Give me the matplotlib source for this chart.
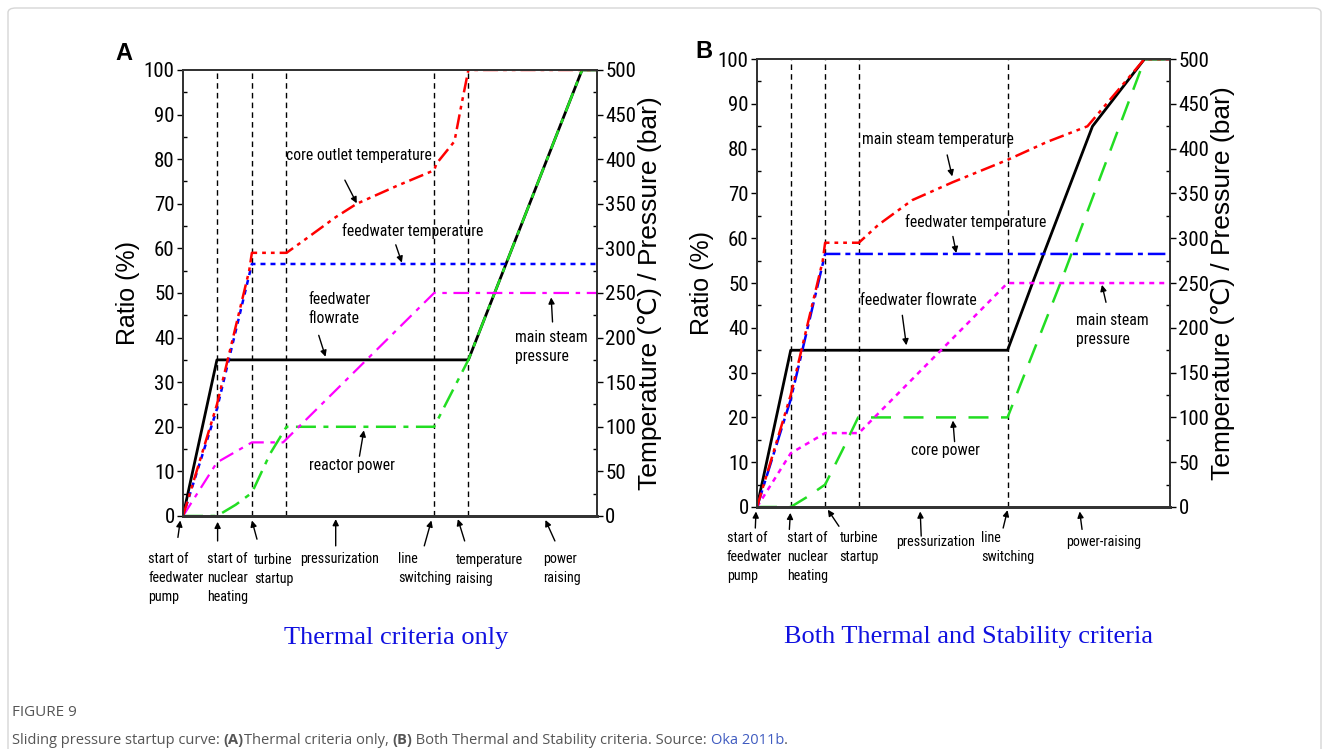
import matplotlib
matplotlib.use("Agg")
import matplotlib.pyplot as plt
import matplotlib.font_manager as fm
from matplotlib.patches import FancyBboxPatch
from matplotlib.ticker import MultipleLocator

# ---- data (x = startup time axis, arbitrary units; y = ratio %) ----
phase_a = [1.0, 2.03, 3.05, 7.4, 8.41]
phase_b = [1.0, 2.02, 3.02, 7.43]

# panel A: thermal criteria only
a_flow_x = [0, 1.0, 8.41, 11.76, 12.2]
a_flow_y = [0, 35, 35, 100, 100]
a_power_x = [0, 1.0, 1.55, 2.03, 2.57, 3.05, 7.4, 8.41, 11.76, 12.2]
a_power_y = [0, 0, 2.5, 5.2, 14, 20, 20, 35, 100, 100]
a_ctemp_x = [0, 1.0, 1.95, 2.03, 3.05, 3.6, 4.5, 5.12, 6.3, 7.4, 7.47, 8.0, 8.2, 8.41, 12.2]
a_ctemp_y = [0, 25, 55, 59, 59, 62, 67, 70, 74, 77.5, 79, 84, 92, 100, 100]
a_ftemp_x = [0, 1.0, 2.03, 12.2]
a_ftemp_y = [0, 24, 56.5, 56.5]
a_press_x = [0, 1.0, 2.03, 2.95, 7.4, 12.2]
a_press_y = [0, 12, 16.5, 16.5, 50, 50]

# panel B: thermal and stability criteria
b_flow_x = [0, 1.0, 7.43, 8.17, 9.95, 11.49, 12.25]
b_flow_y = [0, 35, 35, 50, 85, 100, 100]
b_power_x = [0, 1.0, 1.5, 2.02, 2.54, 3.0, 7.43, 9.0, 11.5, 12.25]
b_power_y = [0, 0, 2.3, 5, 12.8, 20, 20, 50, 100, 100]
b_mtemp_x = [0, 1.0, 1.95, 2.02, 3.02, 3.6, 4.6, 5.8, 7.43, 8.6, 9.8, 11.49, 12.25]
b_mtemp_y = [0, 25, 55, 59, 59, 63, 68.5, 72.5, 77.5, 81.5, 85, 100, 100]
b_ftemp_x = [0, 1.0, 2.02, 12.25]
b_ftemp_y = [0, 24, 56.5, 56.5]
b_press_x = [0, 1.0, 2.02, 3.02, 7.43, 12.25]
b_press_y = [0, 12, 16.5, 16.5, 50, 50]

SANS = ["Liberation Sans", "DejaVu Sans"]

# look for a condensed face for the cramped labels of the original
narrow_file = None
for f in fm.fontManager.ttflist:
    fn = f.fname
    if ("Narrow" in fn or "Condensed" in fn) and not any(
            k in fn for k in ("Bold", "Italic", "Oblique", "Light", "Thin", "Black", "Medium", "Semi")):
        narrow_file = fn
        if "LiberationSansNarrow" in fn:
            break


def narrow(size):
    if narrow_file:
        return dict(fontproperties=fm.FontProperties(fname=narrow_file, size=size))
    return dict(family=SANS, fontsize=size * 0.85)


RED = "#ff0000"
BLUE = "#0000ff"
MAG = "#ff00ff"
GREEN = "#22dd22"

fig = plt.figure(figsize=(13.29, 7.49), dpi=100)


def style_ticks(ax, major, minor):
    ax.yaxis.set_major_locator(MultipleLocator(major))
    ax.yaxis.set_minor_locator(MultipleLocator(minor))
    ax.tick_params(axis="y", which="major", direction="out", length=4, width=1, pad=2)
    ax.tick_params(axis="y", which="minor", direction="in", length=3, width=1)
    for s in ax.spines.values():
        s.set_linewidth(1.3)
        s.set_color("#333333")
    ax.spines["bottom"].set_linewidth(2)


def set_ticklabels(ax, vals):
    ax.set_yticks(vals)
    ax.set_yticklabels([str(v) for v in vals], **narrow(15))


def setup_axes(rect, xmax):
    ax = fig.add_axes(rect)
    ax.set_xlim(0, xmax)
    ax.set_ylim(0, 100)
    ax.set_xticks([])
    style_ticks(ax, 10, 5)
    set_ticklabels(ax, list(range(0, 101, 10)))
    ax.set_ylabel("Ratio (%)", fontsize=18, family=SANS, labelpad=3)

    ax2 = ax.twinx()
    ax2.set_ylim(0, 500)
    style_ticks(ax2, 50, 25)
    set_ticklabels(ax2, list(range(0, 501, 50)))
    ax2.set_ylabel("Temperature (\u2103) / Pressure (bar)", fontsize=19,
                   family=SANS, labelpad=1)
    return ax


def note(ax, xy, xytext):
    ax.annotate("", xy=xy, xytext=xytext,
                arrowprops=dict(arrowstyle="-|>", color="k", lw=1,
                                mutation_scale=9, shrinkA=0, shrinkB=0),
                annotation_clip=False)


def label(ax, x, y, s, size=11.3, spacing=1.35):
    ax.text(x, y, s, ha="left", va="top", linespacing=spacing, clip_on=False,
            **narrow(size))


def bottom(ax, x, y, s):
    label(ax, x, y, s, size=10.2, spacing=1.45)


# ---------------- panel A ----------------
axA = setup_axes([0.1377, 0.3111, 0.3115, 0.5955], 12.2)
for xv in phase_a:
    axA.axvline(xv, color="k", lw=1, ls=(0, (4, 3)))
axA.plot(a_flow_x, a_flow_y, color="k", lw=2)
axA.plot(a_power_x, a_power_y, color=GREEN, lw=1.8, ls=(0, (8, 3, 2, 3)))
axA.plot(a_press_x, a_press_y, color=MAG, lw=1.6, ls=(0, (7, 3, 2, 3)))
axA.plot(a_ftemp_x, a_ftemp_y, color=BLUE, lw=1.8, ls=(0, (2, 2)))
axA.plot(a_ctemp_x, a_ctemp_y, color=RED, lw=1.8, ls=(0, (6, 2, 1.5, 2, 1.5, 2)))

label(axA, 3.03, 82.6, "core outlet temperature")
note(axA, (5.12, 70.1), (4.77, 75.3))
label(axA, 4.7, 65.7, "feedwater temperature")
note(axA, (6.45, 56.8), (6.27, 60.8))
label(axA, 3.7, 50.2, "feedwater\nflowrate")
note(axA, (4.2, 35.7), (4.0, 40.5))
label(axA, 3.7, 13.0, "reactor power")
note(axA, (5.33, 19.2), (5.2, 13.4))
label(axA, 9.77, 41.8, "main steam\npressure")
note(axA, (10.85, 49.0), (10.89, 43.5))

bottom(axA, -1.02, -8.0, "start of\nfeedwater\npump")
note(axA, (-0.08, -1.0), (-0.15, -4.8))
bottom(axA, 0.72, -8.0, "start of\nnuclear\nheating")
note(axA, (1.02, -1.3), (1.02, -5.6))
bottom(axA, 2.1, -8.3, "turbine\nstartup")
note(axA, (2.03, -1.0), (2.18, -5.2))
bottom(axA, 3.44, -8.0, "pressurization")
note(axA, (4.5, -0.7), (4.5, -6.7))
bottom(axA, 6.35, -8.0, "line\nswitching")
note(axA, (7.32, -1.0), (7.11, -6.7))
bottom(axA, 8.03, -8.3, "temperature\nraising")
note(axA, (8.1, -0.7), (8.3, -5.6))
bottom(axA, 10.6, -8.0, "power\nraising")
note(axA, (10.68, -0.9), (10.96, -5.6))

# ---------------- panel B ----------------
axB = setup_axes([0.5696, 0.3231, 0.3108, 0.598], 12.25)
for xv in phase_b:
    axB.axvline(xv, color="k", lw=1, ls=(0, (4, 3)))
axB.plot(b_flow_x, b_flow_y, color="k", lw=2)
axB.plot(b_power_x, b_power_y, color=GREEN, lw=1.8, ls=(0, (8, 5)))
axB.plot(b_press_x, b_press_y, color=MAG, lw=1.8, ls=(0, (2, 2)))
axB.plot(b_ftemp_x, b_ftemp_y, color=BLUE, lw=1.8, ls=(0, (7, 2, 2, 2)))
axB.plot(b_mtemp_x, b_mtemp_y, color=RED, lw=1.8, ls=(0, (6, 2, 1.5, 2, 1.5, 2)))

label(axB, 3.1, 83.8, "main steam temperature")
note(axB, (5.79, 73.8), (5.64, 78.6))
label(axB, 4.4, 65.4, "feedwater temperature")
note(axB, (5.91, 56.7), (5.81, 60.4))
label(axB, 3.05, 47.7, "feedwater flowrate")
note(axB, (4.43, 36.1), (4.31, 42.8))
label(axB, 4.57, 14.4, "core power")
note(axB, (5.81, 19.3), (5.86, 14.6))
label(axB, 9.47, 43.3, "main steam\npressure")
note(axB, (10.23, 49.6), (10.35, 45.7))

bottom(axB, -0.89, -5.3, "start of\nfeedwater\npump")
note(axB, (-0.03, -1.0), (-0.05, -4.7))
bottom(axB, 0.9, -5.3, "start of\nnuclear\nheating")
note(axB, (0.99, -1.3), (0.96, -5.0))
bottom(axB, 2.45, -5.3, "turbine\nstartup")
note(axB, (2.1, -0.6), (2.43, -4.3))
bottom(axB, 4.13, -6.3, "pressurization")
note(axB, (4.84, -1.0), (4.87, -6.5))
bottom(axB, 6.65, -5.3, "line\nswitching")
note(axB, (7.43, -0.7), (7.3, -4.7))
bottom(axB, 9.18, -6.3, "power-raising")
note(axB, (9.57, -1.0), (9.64, -5.0))

# panel letters and blue sub-titles
fig.text(124 / 1329, 1 - 53 / 749, "A", fontsize=17, fontweight="bold",
         family=SANS, ha="center", va="center")
fig.text(704 / 1329, 1 - 52 / 749, "B", fontsize=17, fontweight="bold",
         family=SANS, ha="center", va="center")
fig.text(396 / 1329, 1 - 638 / 749, "Thermal criteria only", fontsize=19,
         family=["Liberation Serif", "DejaVu Serif"], color="#1010e0",
         ha="center", va="center")
fig.text(969 / 1329, 1 - 637 / 749, "Both Thermal and Stability criteria",
         fontsize=19, family=["Liberation Serif", "DejaVu Serif"],
         color="#1010e0", ha="center", va="center")

# outer frame
fig.patches.append(FancyBboxPatch((8 / 1329, -0.05), 1313 / 1329, 1.05 - 8 / 749,
                                  boxstyle="round,pad=0,rounding_size=0.006",
                                  transform=fig.transFigure, fill=False,
                                  edgecolor="#d6d6d6", lw=1))

# caption
GREY = "#555555"
fig.text(12 / 1329, 1 - 712 / 749, "FIGURE 9", fontsize=11, family="Open Sans",
         color=GREY, va="center")
parts = [("Sliding pressure startup curve: ", "normal", GREY),
         ("(A)", "bold", GREY),
         ("Thermal criteria only, ", "normal", GREY),
         ("(B)", "bold", GREY),
         (" Both Thermal and Stability criteria. Source: ", "normal", GREY),
         ("Oka 2011b", "normal", "#3f5bc0"),
         (".", "normal", GREY)]
renderer = fig.canvas.get_renderer()
xpos = 12
for s, w, c in parts:
    t = fig.text(xpos / 1329, 1 - 740 / 749, s, fontsize=10.5, family="Open Sans",
                 fontweight=w, color=c, va="center")
    bb = t.get_window_extent(renderer=renderer)
    xpos += bb.width

fig.savefig("out.png", dpi=100)
